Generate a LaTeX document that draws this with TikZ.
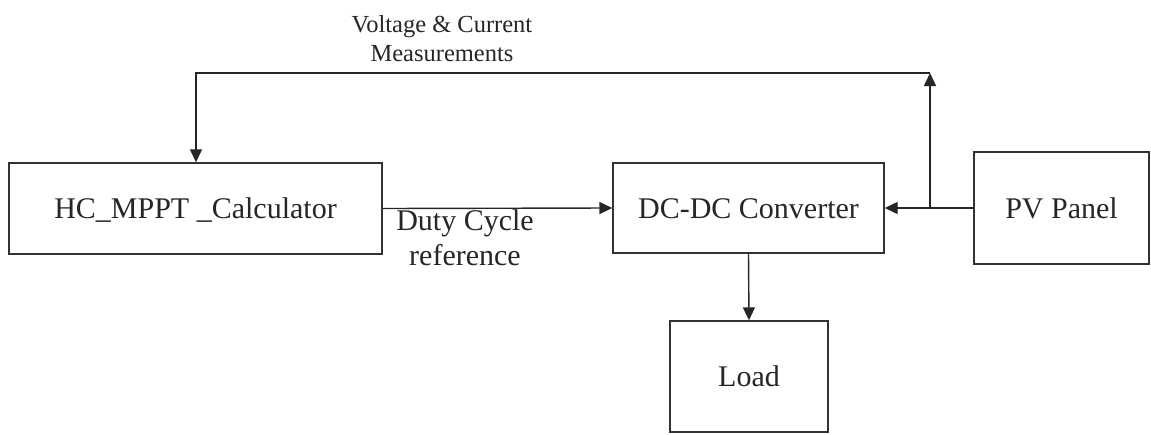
\documentclass[tikz,border=0pt]{standalone}
\usepackage{fontspec}
\setmainfont{Liberation Serif}
\usetikzlibrary{arrows.meta}
\begin{document}
\begin{tikzpicture}[x=1pt,y=-1pt,
  line width=1.4pt,
  every node/.style={text=black!85},
  block/.style={draw=black!80, rectangle, inner sep=0pt,
    font=\fontsize{30}{35}\selectfont, text height=20pt, text depth=0pt},
  flow/.style={draw=black!85, -{Triangle[length=13pt,width=12pt]}},
  caption/.style={align=center, anchor=base}]
  \useasboundingbox (0,0) rectangle (1151,434);

  % blocks
  \node[block, minimum width=373pt, minimum height=91pt] (hc) at (195.5,208.5) {HC\_MPPT \_Calculator};
  \node[block, minimum width=271pt, minimum height=90pt] (dc) at (748.5,208) {DC-DC Converter};
  \node[block, minimum width=175pt, minimum height=112pt] (pv) at (1061.5,208) {PV Panel};
  \node[block, minimum width=158pt, minimum height=111pt] (load) at (749,376.5) {Load};

  % junction and feedback corners
  \coordinate (j) at (930,208);
  \coordinate (tr) at (930,73);
  \coordinate (tl) at (196,73);

  % signal paths
  \draw[flow] (hc.east) -- (dc.west);
  \draw[flow] (pv.west) -- (dc.east);
  \draw[flow] (j) -- (tr);
  \draw[flow] (tr) -- (tl) -- (tl |- hc.north);
  \draw[flow] (dc.south) -- (load.north);

  % labels (anchored at the baseline of the last line)
  \node[caption, font=\fontsize{24.5}{29}\selectfont] (meas) at (442,61) {Voltage \& Current\\Measurements};
  \node[caption, font=\fontsize{30}{35}\selectfont] (duty) at (465,265) {Duty Cycle\\reference};
\end{tikzpicture}
\end{document}
